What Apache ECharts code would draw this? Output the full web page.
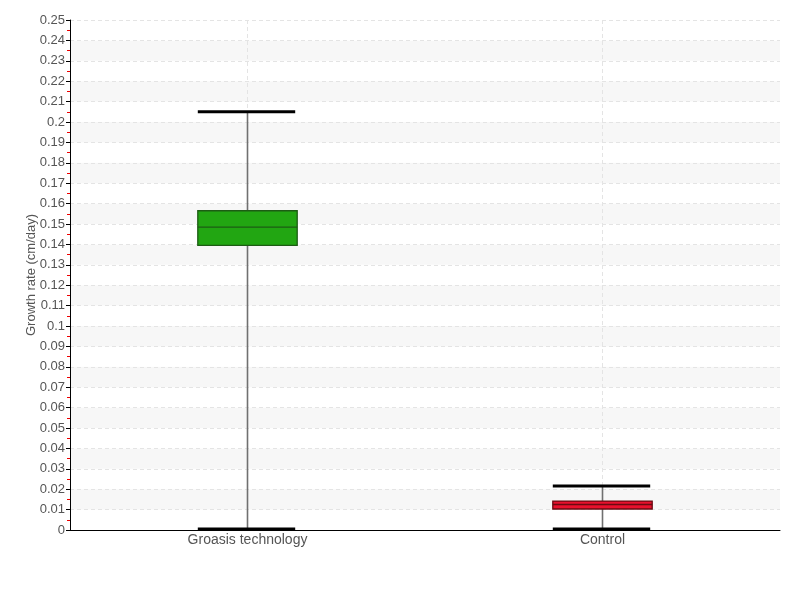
<!DOCTYPE html>
<html>
<head>
<meta charset="utf-8">
<script src="https://cdn.jsdelivr.net/npm/echarts@6/dist/echarts.min.js"></script>
<style>html,body{margin:0;padding:0;background:#fff}#c{width:800px;height:600px}</style>
</head>
<body>
<div id="c"></div>
<script>
const categories = ['Groasis technology', 'Control'];
const whiskerLow = [0, 0];
const q1 = [0.1395, 0.0103];
const median = [0.1485, 0.0125];
const q3 = [0.1565, 0.0142];
const whiskerHigh = [0.205, 0.0216];
const fillColors = ['#22a612', '#e8112d'];
const borderColors = ['#1d5c14', '#6a0a12'];

const FONT = '"Liberation Sans", Arial, sans-serif';
const data = categories.map((c, i) => [i, whiskerLow[i], q1[i], median[i], q3[i], whiskerHigh[i]]);

const chart = echarts.init(document.getElementById('c'));
chart.setOption({
  animation: false,
  grid: { left: 70, right: 20, top: 20, bottom: 70 },
  xAxis: {
    type: 'category',
    data: categories,
    axisLine: { lineStyle: { color: '#000', width: 1 } },
    axisTick: { show: false },
    axisLabel: { color: '#555', fontFamily: FONT, fontSize: 14, margin: 3 },
    splitLine: { show: true, alignWithLabel: true, lineStyle: { color: '#e4e4e4', type: [4, 3] } }
  },
  yAxis: {
    type: 'value',
    min: 0, max: 0.25, interval: 0.01,
    name: 'Growth rate (cm/day)',
    nameLocation: 'middle',
    nameGap: 32,
    nameMoveOverlap: false,
    nameTextStyle: { color: '#555', fontFamily: FONT, fontSize: 13 },
    axisLine: { show: true, lineStyle: { color: '#000', width: 1 } },
    axisTick: { show: true, length: 4, lineStyle: { color: '#000' } },
    minorTick: { show: true, splitNumber: 2, length: 3, lineStyle: { color: '#e00' } },
    axisLabel: { color: '#555', fontFamily: FONT, fontSize: 13, margin: 5 },
    splitLine: { show: true, lineStyle: { color: '#e4e4e4', type: [4, 3] } },
    splitArea: { show: true, areaStyle: { color: ['#ffffff', '#f7f7f7'] } }
  },
  series: [{
    type: 'custom',
    data: data,
    encode: { x: 0, y: [1, 2, 3, 4, 5] },
    renderItem: function (params, api) {
      const i = api.value(0);
      const pLow = api.coord([i, api.value(1)]);
      const pQ1 = api.coord([i, api.value(2)]);
      const pMed = api.coord([i, api.value(3)]);
      const pQ3 = api.coord([i, api.value(4)]);
      const pHigh = api.coord([i, api.value(5)]);
      const bw = api.size([1, 0])[0] * 0.28;
      const cx = pLow[0];
      const x0 = cx - bw / 2, x1 = cx + bw / 2;
      const idx = params.dataIndex;
      return {
        type: 'group',
        children: [
          { type: 'line', shape: { x1: cx, y1: pLow[1], x2: cx, y2: pHigh[1] }, style: { stroke: '#707070', lineWidth: 1.6 } },
          { type: 'rect', shape: { x: x0, y: pQ3[1], width: bw, height: pQ1[1] - pQ3[1] }, style: { fill: fillColors[idx], stroke: borderColors[idx], lineWidth: 1.3 } },
          { type: 'line', shape: { x1: x0, y1: pMed[1], x2: x1, y2: pMed[1] }, style: { stroke: borderColors[idx], lineWidth: 1.3 } },
          { type: 'line', shape: { x1: x0, y1: pHigh[1], x2: x1 - 2, y2: pHigh[1] }, style: { stroke: '#000', lineWidth: 3 } },
          { type: 'line', shape: { x1: x0, y1: pLow[1] - 1, x2: x1 - 2, y2: pLow[1] - 1 }, style: { stroke: '#000', lineWidth: 3 } }
        ]
      };
    }
  }]
});
</script>
</body>
</html>
